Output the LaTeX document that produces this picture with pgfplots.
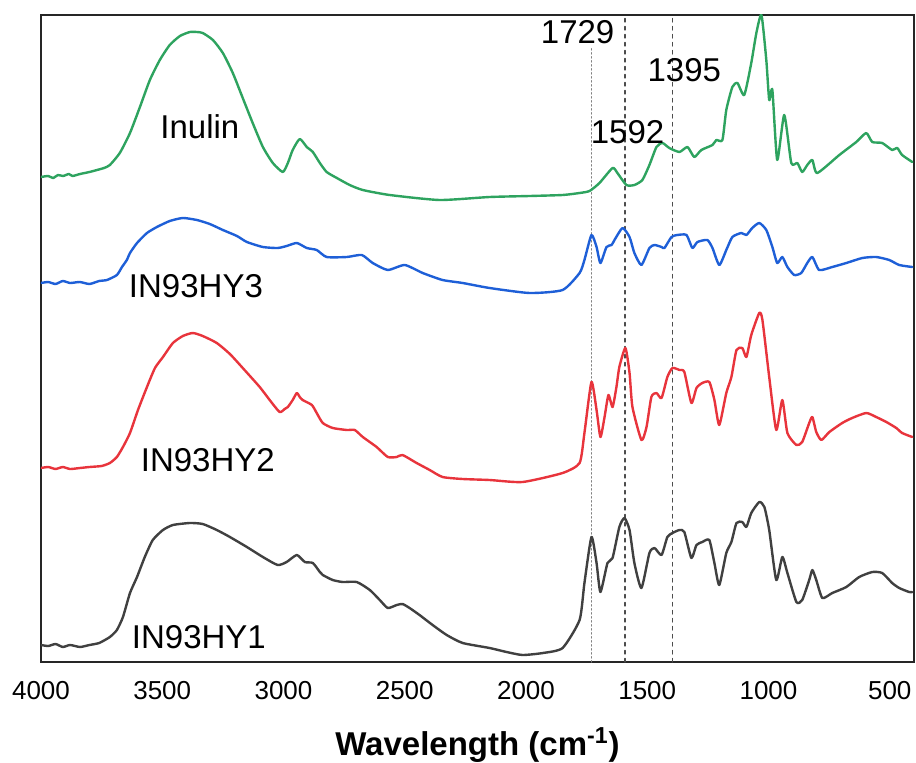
\documentclass[border=0pt]{standalone}
\usepackage{fontspec}
\setmainfont{Liberation Sans}
\usepackage{pgfplots}
\pgfplotsset{compat=1.18}

\definecolor{inulin}{RGB}{46,163,95}
\definecolor{hyC}{RGB}{30,95,215}
\definecolor{hyB}{RGB}{232,52,60}
\definecolor{hyA}{RGB}{64,64,64}

\newcommand{\lblfont}{\fontsize{16.5}{20}\selectfont}

\begin{document}
\begin{tikzpicture}
\begin{axis}[
  scale only axis,
  width=436.5pt, height=323.5pt,
  x dir=reverse,
  xmin=400, xmax=4000, ymin=-2, ymax=645,
  xtick={4000,3500,3000,2500,2000,1500,1000,500},
  ytick=\empty,
  major tick length=0pt,
  axis line style={line width=1pt, black!85},
  /pgf/number format/assume math mode=true,
  /pgf/number format/1000 sep={},
  xticklabel style={font=\fontsize{13}{15}\selectfont, yshift=-6pt},
  xlabel={\textbf{Wavelength (cm\textsuperscript{-1})}},
  xlabel style={font=\lblfont, at={(axis description cs:0.5,0)}, anchor=center, yshift=-41.5pt},
  every axis plot/.append style={line join=round, line cap=round},
  spectrum/.style={line width=1.2pt, smooth, tension=0.35},
]

% reference band positions
\addplot[gray, line width=0.6pt, dash pattern=on 0.7pt off 1.3pt] coordinates {(1729,-2) (1729,612)};
\addplot[black!70, line width=0.6pt, dash pattern=on 1.8pt off 2.2pt] coordinates {(1592,-2) (1592,645)};
\addplot[black!70, line width=0.6pt, dash pattern=on 1.8pt off 2.2pt] coordinates {(1395,-2) (1395,645)};

% Inulin
\addplot[inulin, spectrum] coordinates {
(4000,483) (3970,484) (3950,482) (3930,485) (3909,484) (3885,486) (3870,484) (3839,486)
(3800,488) (3769,490) (3740,492) (3716,495) (3675,507) (3633,527) (3592,553) (3551,580)
(3510,600) (3469,615) (3427,624) (3386,628) (3357,628) (3333,627) (3291,620) (3250,607)
(3209,587) (3168,562) (3127,537) (3085,513) (3044,497) (3003,488) (2982,497) (2962,510)
(2933,521) (2904,513) (2879,508) (2850,497) (2822,488) (2780,482) (2727,475) (2673,470)
(2562,465) (2356,460) (2150,463) (1985,464) (1849,465) (1779,467) (1738,469) (1697,477)
(1643,492) (1623,487) (1586,475) (1553,475) (1520,480) (1491,495) (1462,513) (1437,517)
(1409,512) (1367,508) (1334,513) (1306,503) (1277,510) (1231,515) (1215,520) (1190,520)
(1174,550) (1149,573) (1128,577) (1100,565) (1071,597) (1050,627) (1029,645) (1009,600)
(997,560) (984,570) (964,500) (935,545) (906,497) (881,497) (861,488) (840,495)
(819,500) (799,487) (708,505) (638,518) (597,527) (572,518) (531,517) (490,510)
(469,512) (449,505) (407,498)
};

% IN93HY3
\addplot[hyC, spectrum] coordinates {
(4000,377) (3970,378) (3940,376) (3910,379) (3880,377) (3840,378) (3800,376) (3760,379)
(3728,380) (3687,385) (3666,393) (3646,400) (3633,407) (3604,417) (3563,427) (3522,433)
(3469,439) (3415,442) (3357,440) (3304,436) (3250,430) (3192,424) (3151,418) (3085,413)
(3024,412) (2987,414) (2945,417) (2904,412) (2863,410) (2822,403) (2739,403) (2677,405)
(2632,397) (2570,390) (2500,395) (2426,387) (2344,380) (2261,377) (2150,372) (1985,367)
(1849,370) (1779,387) (1759,400) (1730,425) (1709,413) (1693,397) (1668,413) (1647,415)
(1635,420) (1602,432) (1573,423) (1553,407) (1524,395) (1491,412) (1470,415) (1441,413)
(1429,412) (1400,423) (1376,425) (1338,425) (1314,412) (1293,418) (1252,420) (1231,412)
(1203,395) (1174,410) (1149,423) (1112,427) (1091,425) (1067,432) (1038,437) (1009,430)
(984,413) (964,397) (943,403) (922,393) (894,385) (865,387) (840,397) (819,403)
(791,390) (737,393) (679,397) (613,402) (556,403) (502,400) (461,395) (407,393)
};

% IN93HY2
\addplot[hyB, spectrum] coordinates {
(4000,192) (3970,193) (3940,191) (3910,193) (3880,191) (3839,192) (3800,193) (3750,194)
(3716,197) (3687,203) (3662,213) (3633,227) (3600,250) (3563,273) (3530,292) (3497,303)
(3456,317) (3415,324) (3374,327) (3333,324) (3275,317) (3221,306) (3168,292) (3098,273)
(3057,260) (3016,248) (2995,251) (2982,253) (2962,260) (2945,267) (2933,263) (2921,260)
(2883,255) (2863,247) (2838,237) (2797,232) (2739,230) (2706,230) (2673,223) (2616,213)
(2570,203) (2533,203) (2509,205) (2451,197) (2397,190) (2344,183) (2261,181) (2150,180)
(2014,178) (1849,187) (1779,197) (1759,227) (1730,278) (1709,250) (1693,223) (1676,243)
(1660,265) (1643,253) (1627,273) (1615,293) (1590,312) (1573,287) (1561,253) (1524,220)
(1503,233) (1483,263) (1462,267) (1441,262) (1417,283) (1396,292) (1367,290) (1347,288)
(1318,257) (1297,272) (1273,277) (1244,278) (1223,260) (1203,235) (1174,267) (1153,283)
(1132,310) (1108,312) (1091,303) (1071,325) (1038,347) (1025,340) (997,283) (968,230)
(943,260) (922,227) (885,215) (861,218) (832,237) (819,243) (803,228) (782,220)
(749,228) (696,237) (655,242) (597,247) (556,243) (514,238) (473,232) (449,227)
(407,223)
};

% IN93HY1
\addplot[hyA, spectrum] coordinates {
(4000,15) (3970,14) (3940,16) (3910,13) (3880,15) (3839,13) (3800,15) (3760,17)
(3716,23) (3687,30) (3662,43) (3633,67) (3604,83) (3572,103) (3539,120) (3497,130)
(3456,135) (3386,137) (3333,136) (3275,130) (3221,123) (3151,113) (3085,103) (3024,95)
(2987,98) (2945,105) (2912,98) (2879,97) (2850,88) (2838,85) (2797,80) (2756,78)
(2698,78) (2644,70) (2603,60) (2570,52) (2533,55) (2509,56) (2480,52) (2439,45)
(2385,35) (2327,25) (2261,17) (2150,12) (2080,8) (2014,5) (1930,7) (1849,12)
(1779,40) (1759,77) (1730,123) (1709,97) (1693,68) (1664,97) (1643,102) (1615,133)
(1594,142) (1573,130) (1553,97) (1524,72) (1491,107) (1470,112) (1441,105) (1417,123)
(1396,127) (1367,130) (1347,128) (1318,102) (1297,115) (1273,118) (1244,120) (1223,97)
(1203,75) (1174,107) (1153,118) (1132,137) (1108,138) (1091,133) (1071,147) (1038,158)
(1017,153) (997,130) (968,80) (943,103) (922,87) (885,58) (861,60) (832,80)
(819,90) (803,80) (778,62) (737,67) (679,73) (626,83) (572,88) (531,87)
(490,77) (461,72) (420,68) (407,68)
};

\node[font=\lblfont] at (axis cs:3345,533) {Inulin};
\node[font=\lblfont] at (axis cs:3361,374) {IN93HY3};
\node[font=\lblfont] at (axis cs:3312,200) {IN93HY2};
\node[font=\lblfont] at (axis cs:3349,23) {IN93HY1};
\node[font=\lblfont] at (axis cs:1787,628) {1729};
\node[font=\lblfont] at (axis cs:1347,590) {1395};
\node[font=\lblfont] at (axis cs:1581,528) {1592};
\end{axis}
\pgfresetboundingbox
\path[use as bounding box] (current axis.south west) ++(-20.5pt,-50pt) rectangle ++(458pt,381pt);
\end{tikzpicture}
\end{document}
